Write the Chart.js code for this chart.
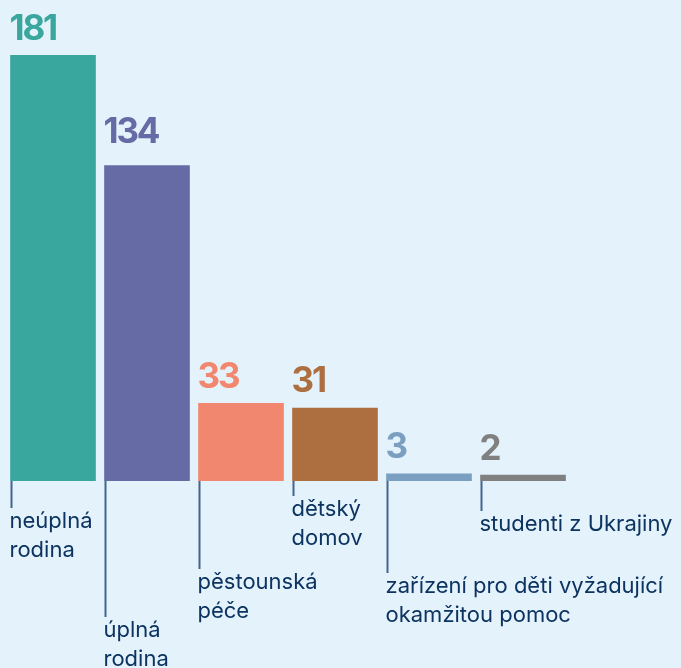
<!DOCTYPE html>
<html>
<head>
<meta charset="utf-8">
<script src="https://cdn.jsdelivr.net/npm/chart.js@4"></script>
<style>
  html, body { margin: 0; padding: 0; background: #e4f2fb; }
  #wrap { width: 681px; height: 668px; }
</style>
</head>
<body>
<div id="wrap"><canvas id="chart" width="681" height="668"></canvas></div>
<script>
// kategorie (po řádcích) a počty
const categories = [
  ['neúplná', 'rodina'],
  ['úplná', 'rodina'],
  ['pěstounská', 'péče'],
  ['dětský', 'domov'],
  ['zařízení pro děti vyžadující', 'okamžitou pomoc'],
  ['studenti z Ukrajiny']
];
const values = [181, 134, 33, 31, 3, 2];
const colors = ['#3aa79f', '#666ba5', '#f2876f', '#ad6f40', '#7a9fc0', '#808080'];

// jak hluboko pod osu vede vodicí čára k popisku
const labelDrop = [27, 136, 88, 15, 92, 30];
const valueGap = [15, 23, 15, 16, 16, 15];

const labelPlugin = {
  id: 'labels',
  afterDatasetsDraw(chart) {
    const ctx = chart.ctx;
    const meta = chart.getDatasetMeta(0);
    meta.data.forEach((bar, i) => {
      const left = bar.x - bar.width / 2;
      ctx.save();
      // hodnota nad sloupcem
      ctx.fillStyle = colors[i];
      ctx.font = 'bold 35px Inter';
      ctx.letterSpacing = '-2.2px';
      ctx.textAlign = 'left';
      ctx.textBaseline = 'alphabetic';
      ctx.fillText(String(values[i]), left - 1, bar.y - valueGap[i]);
      // vodicí čára
      ctx.letterSpacing = '0px';
      ctx.strokeStyle = '#43648d';
      ctx.lineWidth = 2;
      ctx.beginPath();
      ctx.moveTo(left + 1, bar.base);
      ctx.lineTo(left + 1, bar.base + labelDrop[i]);
      ctx.stroke();
      // popisek
      ctx.fillStyle = '#0d3461';
      ctx.font = '22px Inter';
      categories[i].forEach((line, j) => {
        ctx.fillText(line, left - 1, bar.base + labelDrop[i] + 20 + j * 29);
      });
      ctx.restore();
    });
  }
};

new Chart(document.getElementById('chart'), {
  type: 'bar',
  data: {
    labels: categories,
    datasets: [{
      data: values,
      backgroundColor: colors,
      borderWidth: 0,
      barThickness: 85,
      minBarLength: 6
    }]
  },
  options: {
    responsive: false,
    animation: false,
    layout: { padding: { left: 6, right: 111, top: 55, bottom: 187 } },
    plugins: {
      legend: { display: false },
      tooltip: { enabled: false }
    },
    scales: {
      x: { display: false },
      y: { display: false, min: 0, max: 181 }
    }
  },
  plugins: [labelPlugin]
});
</script>
</body>
</html>
